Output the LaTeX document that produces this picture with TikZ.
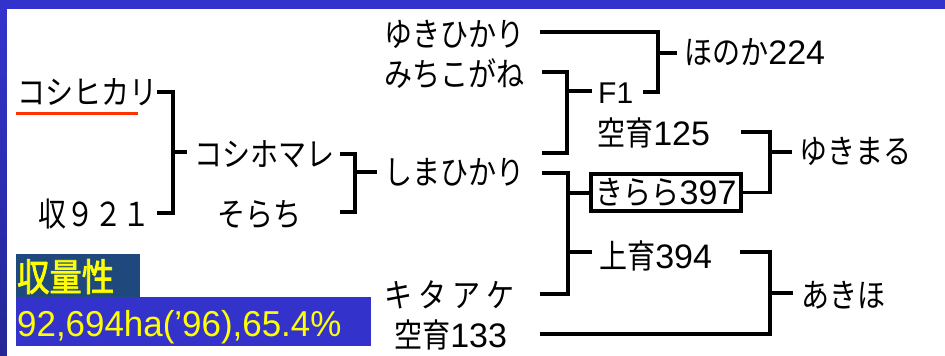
\documentclass[tikz,border=0pt]{standalone}
\usepackage{fontspec}
\setmainfont{Liberation Sans}
\newfontfamily\jpfont[FakeStretch=0.85,AutoFakeBold=2]{Noto Sans CJK JP}
\newcommand{\jt}[1]{{\fontsize{33}{33}\jpfont #1}}
\definecolor{bgblue}{RGB}{51,51,204}
\definecolor{stripdark}{RGB}{38,38,150}
\definecolor{boxdark}{RGB}{31,73,125}
\definecolor{hlyellow}{RGB}{255,255,0}
\definecolor{ulred}{RGB}{255,51,0}
\begin{document}
\begin{tikzpicture}[x=1pt,y=-1pt,
  lbl/.style={anchor=base west, inner sep=0pt, font=\fontsize{34}{34}\selectfont},
  wire/.style={line width=3.6pt, black},
  tick/.style={wire, shorten >=7pt}]
\useasboundingbox (0,0) rectangle (945,356);
% background frame
\fill[bgblue] (0,0) rectangle (945,356);
\shade[top color=bgblue, bottom color=stripdark] (0,9) rectangle (7,356);
\fill[white] (7,9) rectangle (945,356);

% text nodes
\node[lbl] (koshihikari) at (17,104) {\jt{コシヒカリ}};
\node[lbl] (shu921) at (38,226) {\jt{収９２１}};
\node[lbl] (koshihomare) at (194,166) {\jt{コシホマレ}};
\node[lbl] (sorachi) at (217,226) {\jt{そらち}};
\node[lbl] (shimahikari) at (384,184) {\jt{しまひかり}};
\node[lbl] (yukihikari) at (384,46) {\jt{ゆきひかり}};
\node[lbl] (michikogane) at (384,86) {\jt{みちこがね}};
\node[lbl, font=\fontsize{30}{30}\selectfont] (f1) at (598,103) {F1};
\node[lbl] (honoka) at (684,64) {\jt{ほのか}224};
\node[lbl] (kuiku125) at (597,145) {\jt{空育}125};
\node[draw, line width=3.5pt, inner sep=0pt, minimum width=150pt, minimum height=37pt,
      font=\fontsize{34}{34}\selectfont] (kirara) at (666,192.5) {\jt{きらら}397};
\node[lbl] (yukimaru) at (799,163) {\jt{ゆきまる}};
\node[lbl] (joiku394) at (599,268) {\jt{上育}394};
\node[lbl] (kitaake) at (384,307) {\jt{キ\hspace{6pt}タ\hspace{6pt}ア\hspace{6pt}ケ}};
\node[lbl] (kuiku133) at (394,347) {\jt{空育}133};
\node[lbl] (akiho) at (801,307) {\jt{あきほ}};

% red underline
\draw[ulred, line width=3pt] (16,113) -- (138,113);

% connector start points and junctions
\coordinate (a1) at (157,92);  \coordinate (aj) at (173,152); \coordinate (a2) at (157,213);
\coordinate (b1) at (340,154); \coordinate (bj) at (355,172); \coordinate (b2) at (340,212);
\coordinate (c1) at (540,32);  \coordinate (cj) at (658,53);  \coordinate (c2) at (643,92);
\coordinate (d1) at (542,72);  \coordinate (dj) at (567,91);  \coordinate (d2) at (542,153);
\coordinate (e1) at (741,132); \coordinate (ej) at (770,152);
\coordinate (f1s) at (542,173); \coordinate (fk) at (568,193); \coordinate (fj) at (568,252); \coordinate (f2) at (540,294);
\coordinate (g1) at (740,252); \coordinate (gj) at (770,293); \coordinate (g2) at (540,334);

% brackets
\draw[wire] (a1) -| (aj) |- (a2);
\draw[tick] (aj) -- (aj -| koshihomare.west);
\draw[wire] (b1) -| (bj) |- (b2);
\draw[tick] (bj) -- (bj -| shimahikari.west);
\draw[wire] (c1) -| (cj) |- (c2);
\draw[tick] (cj) -- (cj -| honoka.west);
\draw[wire] (d1) -| (dj) |- (d2);
\draw[wire, shorten >=6pt] (dj) -- (dj -| f1.west);
\draw[wire] (e1) -| (ej) |- (kirara.east);
\draw[tick] (ej) -- (ej -| yukimaru.west);
\draw[wire] (f1s) -| (fj) |- (f2);
\draw[wire] (fk) -- (fk -| kirara.west);
\draw[wire, shorten >=7pt] (fj) -- (fj -| joiku394.west);
\draw[wire] (g1) -| (gj) |- (g2);
\draw[wire, shorten >=8pt] (gj) -- (gj -| akiho.west);

% yield boxes
\fill[boxdark] (16,254) rectangle (140,297);
\fill[bgblue] (16,297) rectangle (371,346);
\node[anchor=base west, inner sep=0pt, text=hlyellow,
      font=\fontsize{38}{38}\jpfont\bfseries] (shuryo) at (17,291) {収量性};
\node[anchor=base west, inner sep=0pt, text=hlyellow,
      font=\fontsize{36}{36}\selectfont] (area) at (17,336) {\addfontfeature{FakeStretch=0.97}92,694ha(’96),65.4\%};
\end{tikzpicture}
\end{document}
